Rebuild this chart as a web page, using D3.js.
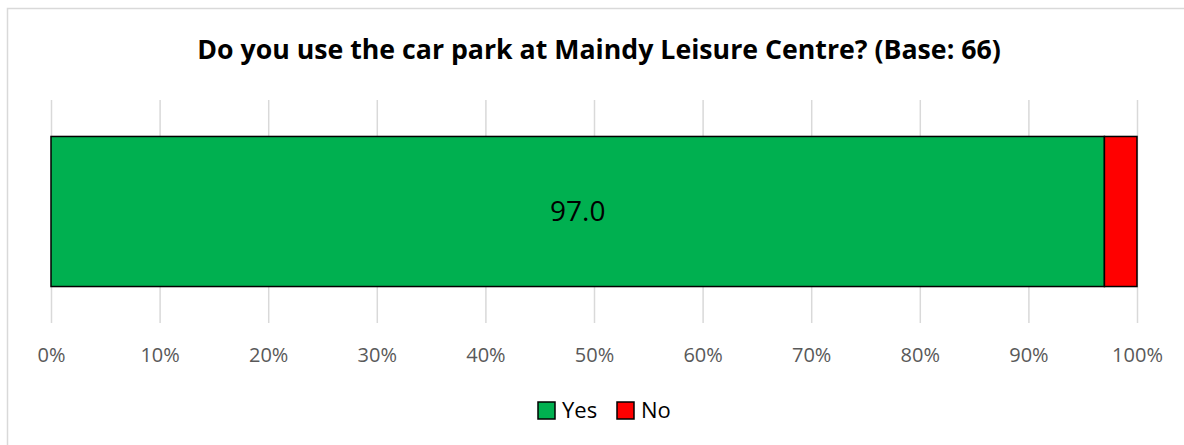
<!DOCTYPE html>
<html>
<head>
<meta charset="utf-8">
<script src="https://cdn.jsdelivr.net/npm/d3@7"></script>
<style>
  body { margin: 0; background: #fff; }
  svg { display: block; font-family: "Open Sans", "Noto Sans", sans-serif; }
</style>
</head>
<body>
<svg id="chart" width="1184" height="445"></svg>
<script>
const title = "Do you use the car park at Maindy Leisure Centre? (Base: 66)";
const categories = ["Maindy"];
const seriesNames = ["Yes", "No"];
const seriesColors = ["#00b050", "#ff0000"];
const yesValues = [97.0];
const noValues = [3.0];
const tickValues = [0, 10, 20, 30, 40, 50, 60, 70, 80, 90, 100];

const svg = d3.select("#chart");
const W = 1184, H = 445;

// chart frame (only left/top visible in the reference)
svg.append("path")
  .attr("d", `M7.5,${H} V8.5 H${W}`)
  .attr("fill", "none")
  .attr("stroke", "#d9d9d9")
  .attr("stroke-width", 1.5);

// title, fitted to the width it takes in the reference
const t = svg.append("text")
  .attr("x", 599)
  .attr("y", 59)
  .attr("text-anchor", "middle")
  .attr("font-weight", "bold")
  .attr("font-size", 24)
  .attr("fill", "#000")
  .text(title);
const tw = t.node().getComputedTextLength();
t.attr("font-size", 24 * 804 / tw);

const x = d3.scaleLinear().domain([0, 100]).range([51, 1137]);
const y = d3.scaleBand().domain(categories).range([100, 323]).paddingInner(0).paddingOuter(0.243);

// gridlines
svg.append("g")
  .selectAll("line")
  .data(tickValues)
  .join("line")
  .attr("x1", (d) => x(d) + 0.5)
  .attr("x2", (d) => x(d) + 0.5)
  .attr("y1", 100)
  .attr("y2", 323)
  .attr("stroke", "#d9d9d9")
  .attr("stroke-width", 1.5);

// stacked bars
const rows = categories.map((c, i) => ({ cat: c, Yes: yesValues[i], No: noValues[i] }));
const stacked = d3.stack().keys(seriesNames)(rows);

svg.append("g")
  .selectAll("g")
  .data(stacked)
  .join("g")
  .attr("fill", (d, i) => seriesColors[i])
  .selectAll("rect")
  .data((d) => d)
  .join("rect")
  .attr("x", (d) => x(d[0]))
  .attr("y", (d) => y(d.data.cat))
  .attr("width", (d) => x(d[1]) - x(d[0]))
  .attr("height", y.bandwidth())
  .attr("stroke", "#000")
  .attr("stroke-width", 1.5);

// data label on the Yes segment
svg.append("g")
  .selectAll("text")
  .data(stacked[0])
  .join("text")
  .attr("x", (d) => (x(d[0]) + x(d[1])) / 2)
  .attr("y", (d) => y(d.data.cat) + y.bandwidth() / 2)
  .attr("dy", "0.35em")
  .attr("text-anchor", "middle")
  .attr("font-size", 28)
  .attr("fill", "#000")
  .text((d) => (d[1] - d[0]).toFixed(1));

// x axis
const axis = svg.append("g")
  .attr("transform", "translate(0,355)")
  .call(d3.axisBottom(x).tickValues(tickValues).tickFormat((d) => d + "%").tickSize(0).tickPadding(0));
axis.select(".domain").remove();
axis.selectAll("text")
  .attr("dy", "0.35em")
  .attr("font-size", 20)
  .attr("font-family", "'Open Sans', sans-serif")
  .attr("fill", "#595959");

// legend
const legend = svg.append("g").attr("transform", "translate(538,402)");
const legendX = [0, 79];
seriesNames.forEach((name, i) => {
  const g = legend.append("g").attr("transform", `translate(${legendX[i]},0)`);
  g.append("rect")
    .attr("width", 17)
    .attr("height", 17)
    .attr("fill", seriesColors[i])
    .attr("stroke", "#000")
    .attr("stroke-width", 1.5);
  g.append("text")
    .attr("x", 24)
    .attr("y", 8.5)
    .attr("dy", "0.35em")
    .attr("font-size", 22)
    .attr("fill", "#000")
    .text(name);
});
</script>
</body>
</html>
